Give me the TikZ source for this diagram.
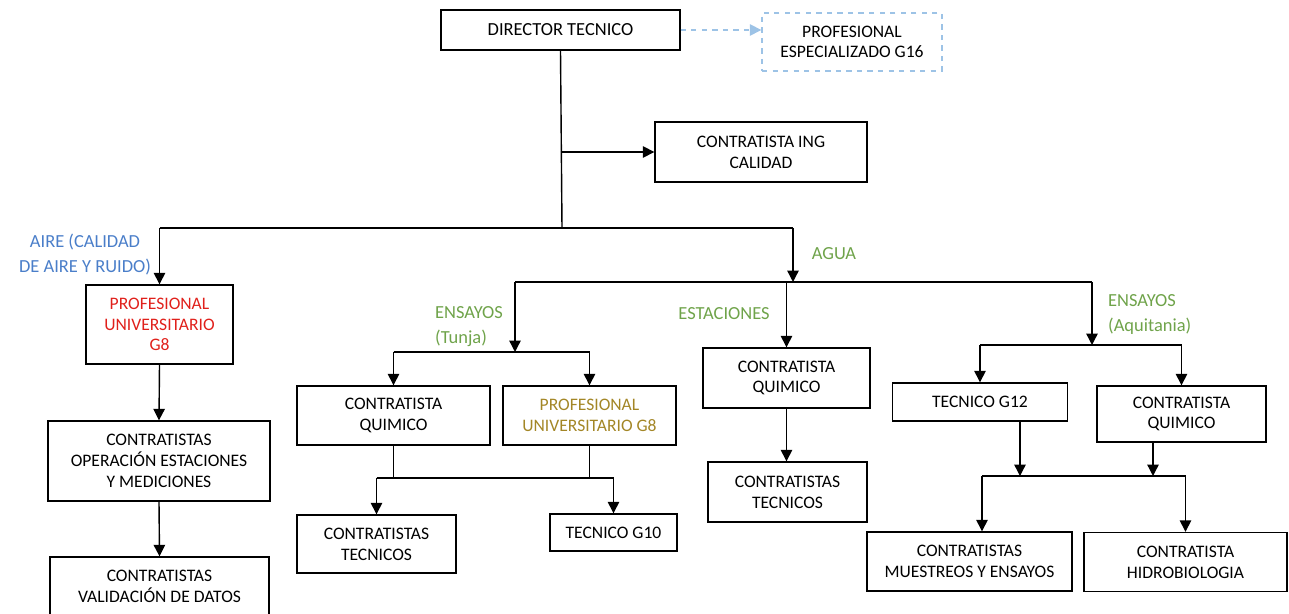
\documentclass[tikz,border=0pt]{standalone}
\usepackage{fontspec}
\setmainfont{Carlito}
\usepackage{xcolor}
\usetikzlibrary{arrows.meta, positioning}

\definecolor{aireblue}{HTML}{4A7EC9}
\definecolor{aguagreen}{HTML}{6FA34A}
\definecolor{pured}{HTML}{E0201B}
\definecolor{pugold}{HTML}{A38626}
\definecolor{dashblue}{HTML}{9DC3E6}

\begin{document}
\begin{tikzpicture}[x=0.02cm, y=-0.02cm,
    box/.style={draw, line width=0.8pt, align=center, inner sep=2pt, font=\fontsize{10}{11.8}\selectfont},
    arr/.style={-{Triangle[length=6.5pt,width=6.5pt]}, line width=0.8pt},
    ln/.style={line width=0.8pt},
    lbl/.style={align=center, font=\fontsize{10.5}{14.2}\selectfont}]
    \useasboundingbox (0,0) rectangle (1289,614);

    % Top level
    \node[box, minimum width=4.78cm, minimum height=0.8cm, font=\fontsize{10.5}{13}\selectfont] (dir) at (560.5,30) {DIRECTOR TECNICO};
    \node[box, draw=dashblue, dashed, minimum width=3.6cm, minimum height=1.16cm] (g16) at (852,42) {PROFESIONAL\\ESPECIALIZADO G16};
    \node[box, minimum width=4.24cm, minimum height=1.2cm] (ing) at (761,152) {CONTRATISTA ING\\CALIDAD};

    \draw[arr, dashblue, dashed] (dir.east) -- (dir.east -| g16.west);
    \coordinate (hub) at (562,228);
    \draw[ln] (dir.south) -- (hub);
    \draw[arr] (dir.south |- ing.west) -- (ing.west);

    % Aire
    \node[box, text=pured, minimum width=2.94cm, minimum height=1.58cm] (pu8) at (159.5,324.5) {PROFESIONAL\\UNIVERSITARIO\\G8};
    \node[box, minimum width=4.44cm, minimum height=1.6cm] (oper) at (159,461) {CONTRATISTAS\\OPERACIÓN ESTACIONES\\Y MEDICIONES};
    \node[box, minimum width=4.38cm, minimum height=1.16cm] (valid) at (159.5,586) {CONTRATISTAS\\VALIDACIÓN DE DATOS};
    \node[lbl, text=aireblue] (airelbl) at (85,255) {AIRE (CALIDAD\\DE AIRE Y RUIDO)};

    \coordinate (aire) at (pu8.north |- hub);
    \coordinate (aguatop) at (793,228);
    \draw[ln] (aire) -- (aguatop);
    \draw[arr] (aire) -- (pu8.north);
    \draw[arr] (pu8.south) -- (oper.north);
    \draw[arr] (oper.south) -- (valid.north);

    % Agua
    \node[lbl, text=aguagreen] (agualbl) at (834,254) {AGUA};
    \coordinate (aguabus) at (793,282);
    \coordinate (tunja) at (515,282);
    \coordinate (aquit) at (1092,282);
    \draw[arr] (aguatop) -- (aguabus);
    \draw[ln] (tunja) -- (aquit);

    % Ensayos Tunja
    \node[lbl, text=aguagreen, align=left, anchor=west] (tunjalbl) at (429,326.5) {ENSAYOS\\(Tunja)};
    \node[box, minimum width=3.86cm, minimum height=1.18cm] (tq) at (393.5,415.5) {CONTRATISTA\\QUIMICO};
    \node[box, text=pugold, minimum width=3.46cm, minimum height=1.18cm] (tpu) at (589.5,415.5) {PROFESIONAL\\UNIVERSITARIO G8};
    \node[box, minimum width=3.18cm, minimum height=1.16cm] (tct) at (376.5,544) {CONTRATISTAS\\TECNICOS};
    \node[box, minimum width=2.54cm, minimum height=0.74cm] (tg10) at (613.5,532.5) {TECNICO G10};

    \coordinate (tbus) at (515,352);
    \coordinate (tlow) at (500,478);
    \draw[arr] (tunja) -- (tbus);
    \draw[ln] (tq.north |- tbus) -- (tpu.north |- tbus);
    \draw[arr] (tq.north |- tbus) -- (tq.north);
    \draw[arr] (tpu.north |- tbus) -- (tpu.north);
    \draw[ln] (tq.south) -- (tq.south |- tlow);
    \draw[ln] (tpu.south) -- (tpu.south |- tlow);
    \draw[ln] (tct.north |- tlow) -- (tg10.north |- tlow);
    \draw[arr] (tct.north |- tlow) -- (tct.north);
    \draw[arr] (tg10.north |- tlow) -- (tg10.north);

    % Estaciones
    \node[lbl, text=aguagreen] (estlbl) at (724,314) {ESTACIONES};
    \node[box, minimum width=3.34cm, minimum height=1.2cm] (eq) at (786.5,378) {CONTRATISTA\\QUIMICO};
    \node[box, minimum width=3.18cm, minimum height=1.2cm] (ect) at (787.5,492) {CONTRATISTAS\\TECNICOS};
    \draw[arr] (eq.north |- aguabus) -- (eq.north);
    \draw[arr] (eq.south) -- (eq.south |- ect.north);

    % Ensayos Aquitania
    \node[lbl, text=aguagreen, align=left, anchor=west] (aqlbl) at (1102,314.5) {ENSAYOS\\(Aquitania)};
    \node[box, minimum width=3.5cm, minimum height=0.76cm] (ag12) at (980,402) {TECNICO G12};
    \node[box, minimum width=3.38cm, minimum height=1.12cm] (aq) at (1181.5,414) {CONTRATISTA\\QUIMICO};
    \node[box, minimum width=4.1cm, minimum height=1.18cm] (ame) at (969.5,561.5) {CONTRATISTAS\\MUESTREOS Y ENSAYOS};
    \node[box, minimum width=4.06cm, minimum height=1.18cm] (ahb) at (1185.5,562) {CONTRATISTA\\HIDROBIOLOGIA};

    \coordinate (abus) at (1092,345);
    \coordinate (alow) at (1080,476);
    \coordinate (g12out) at ([xshift=0.8cm]ag12.south);
    \coordinate (aqout) at ([xshift=-0.57cm]aq.south);
    \coordinate (amein) at ([xshift=0.25cm]ame.north);
    \draw[arr] (aquit) -- (abus);
    \draw[ln] (ag12.north |- abus) -- (aq.north |- abus);
    \draw[arr] (ag12.north |- abus) -- (ag12.north);
    \draw[arr] (aq.north |- abus) -- (aq.north);
    \draw[arr] (g12out) -- (g12out |- alow);
    \draw[arr] (aqout) -- (aqout |- alow);
    \draw[ln] (amein |- alow) -- (ahb.north |- alow);
    \draw[arr] (amein |- alow) -- (amein);
    \draw[arr] (ahb.north |- alow) -- (ahb.north);
\end{tikzpicture}
\end{document}
